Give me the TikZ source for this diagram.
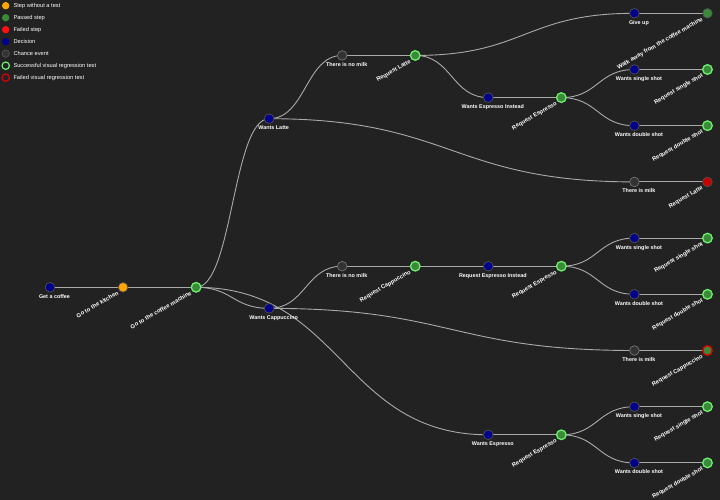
\documentclass[tikz,border=0pt]{standalone}
\usepackage{fontspec}
\setmainfont{Liberation Sans}
\usetikzlibrary{calc}

\pgfdeclarelayer{backdrop}
\pgfdeclarelayer{wires}
\pgfsetlayers{backdrop,wires,main}

\definecolor{bgdark}{HTML}{222222}
\definecolor{untested}{HTML}{FFA500}
\definecolor{passgreen}{HTML}{3A8A3A}
\definecolor{failred}{HTML}{C80000}
\definecolor{keyred}{HTML}{FF1010}
\definecolor{decision}{HTML}{00008B}
\definecolor{chance}{HTML}{333333}
\definecolor{vrok}{HTML}{6EF06E}
\definecolor{vrbad}{HTML}{DD0000}
\definecolor{linkgray}{HTML}{AAAAAA}
\definecolor{rim}{HTML}{505050}

\tikzset{
  tnode/.style={circle, inner sep=0pt, minimum size=9.6pt, draw=rim, line width=0.7pt},
  decnode/.style={tnode, fill=decision},
  chancenode/.style={tnode, fill=chance, draw=rim!80!white},
  plainstep/.style={tnode, fill=untested},
  passnode/.style={tnode, fill=passgreen},
  failnode/.style={tnode, fill=failred},
  vrpass/.style={tnode, fill=passgreen, draw=vrok, line width=1.3pt},
  vrfail/.style={tnode, fill=passgreen, draw=vrbad, line width=1.3pt},
  declabel/.style={font=\bfseries\fontsize{5.4}{6}\selectfont, text=white, inner sep=0pt, anchor=base},
  steplabel/.style={font=\bfseries\fontsize{5.8}{6}\selectfont, text=white, inner sep=0pt, anchor=base east, rotate=30},
  keydot/.style={circle, inner sep=0pt, minimum size=7.4pt, line width=1.2pt},
  keytext/.style={font=\fontsize{5.7}{6}\selectfont, text=white, inner sep=0pt, anchor=west},
  link/.style={draw=linkgray, line width=0.9pt}
}

% horizontal tree link: cubic curve with both control points at the mid column
\newcommand\linkto[2]{%
  \draw[link] let \p1=(#1.center), \p2=(#2.center) in
    (#1.center) .. controls ({(\x1+\x2)/2},\y1) and ({(\x1+\x2)/2},\y2) .. (#2.center);}
\newcommand\underlabel[2]{\node[declabel] (#1-txt) at ([xshift=4.5pt,yshift=-11pt]#1.center) {#2};}
\newcommand\slantlabel[2]{\node[steplabel] (#1-txt) at ([xshift=-4pt,yshift=-7pt]#1.center) {#2};}

\begin{document}
\begin{tikzpicture}[x=1pt,y=-1pt]
\begin{pgfonlayer}{backdrop}
  \fill[bgdark] (0,0) rectangle (720,500);
\end{pgfonlayer}
\useasboundingbox (0,0) rectangle (720,500);

% legend
\node[keydot, fill=untested] (k1) at (5.7,5.7) {};
\node[keytext] (k1-txt) at (13.3,5.7) {Step without a test};
\node[keydot, fill=passgreen] (k2) at (5.7,17.7) {};
\node[keytext] (k2-txt) at (13.3,17.7) {Passed step};
\node[keydot, fill=keyred] (k3) at (5.7,29.7) {};
\node[keytext] (k3-txt) at (13.3,29.7) {Failed step};
\node[keydot, fill=decision] (k4) at (5.7,41.7) {};
\node[keytext] (k4-txt) at (13.3,41.7) {Decision};
\node[keydot, fill=chance, draw=rim, line width=0.7pt] (k5) at (5.7,53.7) {};
\node[keytext] (k5-txt) at (13.3,53.7) {Chance event};
\node[keydot, fill=bgdark, draw=vrok] (k6) at (5.7,65.7) {};
\node[keytext] (k6-txt) at (13.3,65.7) {Successful visual regression test};
\node[keydot, fill=bgdark, draw=vrbad] (k7) at (5.7,77.7) {};
\node[keytext] (k7-txt) at (13.3,77.7) {Failed visual regression test};

% trunk
\node[decnode]    (gc)  at (50,287.3) {};      \underlabel{gc}{Get a coffee}
\node[plainstep]  (gk)  at (123.05,287.3) {};  \slantlabel{gk}{Go to the kitchen}
\node[vrpass]     (gm)  at (196.1,287.3) {};   \slantlabel{gm}{Go to the coffee machine}

% latte branch
\node[decnode]    (wl)  at (269.15,118.7) {};  \underlabel{wl}{Wants Latte}
\node[chancenode] (ln)  at (342.2,55.45) {};   \underlabel{ln}{There is no milk}
\node[vrpass]     (rl)  at (415.25,55.45) {};  \slantlabel{rl}{Request Latte}
\node[decnode]    (gu)  at (634.4,13.3) {};    \underlabel{gu}{Give up}
\node[passnode]   (wa)  at (707.45,13.3) {};   \slantlabel{wa}{Walk away from the coffee machine}
\node[decnode]    (wei) at (488.3,97.6) {};    \underlabel{wei}{Wants Espresso Instead}
\node[vrpass]     (ea)  at (561.35,97.6) {};   \slantlabel{ea}{Request Espresso}
\node[decnode]    (sa)  at (634.4,69.5) {};    \underlabel{sa}{Wants single shot}
\node[vrpass]     (rsa) at (707.45,69.5) {};   \slantlabel{rsa}{Request single shot}
\node[decnode]    (da)  at (634.4,125.7) {};   \underlabel{da}{Wants double shot}
\node[vrpass]     (rda) at (707.45,125.7) {};  \slantlabel{rda}{Request double shot}
\node[chancenode] (lm)  at (634.4,181.9) {};   \underlabel{lm}{There is milk}
\node[failnode]   (rlf) at (707.45,181.9) {};  \slantlabel{rlf}{Request Latte}

% cappuccino branch
\node[decnode]    (wc)  at (269.15,308.35) {}; \underlabel{wc}{Wants Cappuccino}
\node[chancenode] (cn)  at (342.2,266.2) {};   \underlabel{cn}{There is no milk}
\node[vrpass]     (rc)  at (415.25,266.2) {};  \slantlabel{rc}{Request Cappuccino}
\node[decnode]    (rei) at (488.3,266.2) {};   \underlabel{rei}{Request Espresso Instead}
\node[vrpass]     (eb)  at (561.35,266.2) {};  \slantlabel{eb}{Request Espresso}
\node[decnode]    (sb)  at (634.4,238.1) {};   \underlabel{sb}{Wants single shot}
\node[vrpass]     (rsb) at (707.45,238.1) {};  \slantlabel{rsb}{Request single shot}
\node[decnode]    (db)  at (634.4,294.3) {};   \underlabel{db}{Wants double shot}
\node[vrpass]     (rdb) at (707.45,294.3) {};  \slantlabel{rdb}{Request double shot}
\node[chancenode] (cm)  at (634.4,350.5) {};   \underlabel{cm}{There is milk}
\node[vrfail]     (rcf) at (707.45,350.5) {};  \slantlabel{rcf}{Request Cappuccino}

% espresso branch
\node[decnode]    (we)  at (488.3,434.8) {};   \underlabel{we}{Wants Espresso}
\node[vrpass]     (ec)  at (561.35,434.8) {};  \slantlabel{ec}{Request Espresso}
\node[decnode]    (sc)  at (634.4,406.7) {};   \underlabel{sc}{Wants single shot}
\node[vrpass]     (rsc) at (707.45,406.7) {};  \slantlabel{rsc}{Request single shot}
\node[decnode]    (dc)  at (634.4,462.9) {};   \underlabel{dc}{Wants double shot}
\node[vrpass]     (rdc) at (707.45,462.9) {};  \slantlabel{rdc}{Request double shot}

\begin{pgfonlayer}{wires}
  \linkto{gc}{gk}  \linkto{gk}{gm}
  \linkto{gm}{wl}  \linkto{gm}{wc}  \linkto{gm}{we}
  \linkto{wl}{ln}  \linkto{ln}{rl}  \linkto{rl}{gu}  \linkto{gu}{wa}
  \linkto{rl}{wei} \linkto{wei}{ea} \linkto{ea}{sa}  \linkto{sa}{rsa}
  \linkto{ea}{da}  \linkto{da}{rda}
  \linkto{wl}{lm}  \linkto{lm}{rlf}
  \linkto{wc}{cn}  \linkto{cn}{rc}  \linkto{rc}{rei} \linkto{rei}{eb}
  \linkto{eb}{sb}  \linkto{sb}{rsb} \linkto{eb}{db}  \linkto{db}{rdb}
  \linkto{wc}{cm}  \linkto{cm}{rcf}
  \linkto{we}{ec}  \linkto{ec}{sc}  \linkto{sc}{rsc} \linkto{ec}{dc}  \linkto{dc}{rdc}
\end{pgfonlayer}
\end{tikzpicture}
\end{document}
